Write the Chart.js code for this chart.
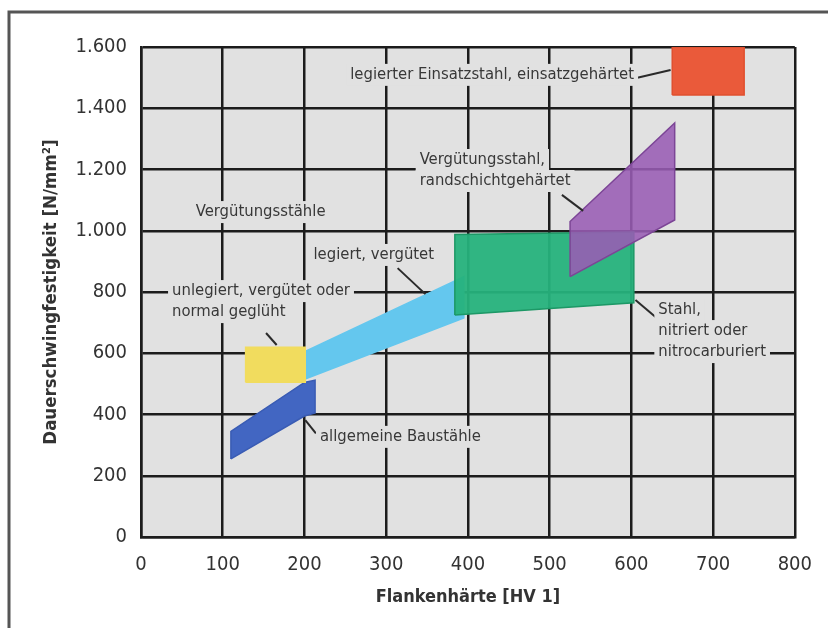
<!DOCTYPE html>
<html>
<head>
<meta charset="utf-8">
<script src="https://cdn.jsdelivr.net/npm/chart.js@4.4.1/dist/chart.umd.min.js"></script>
<style>
  html, body { margin: 0; padding: 0; background: #fff; }
  #wrap { width: 828px; height: 628px; position: relative; }
</style>
</head>
<body>
<div id="wrap"><canvas id="chart"></canvas></div>
<script>
// tick labels (German number format)
const xTicks = ['0', '100', '200', '300', '400', '500', '600', '700', '800'];
const yTicks = ['0', '200', '400', '600', '800', '1.000', '1.200', '1.400', '1.600'];

// areas: corner points, Flankenhärte [HV 1] and Dauerschwingfestigkeit [N/mm²]
const einsatzHV = [650, 650, 738, 738];
const einsatzN  = [1443, 1600, 1600, 1443];
const randHV    = [525, 525, 653, 653];
const randN     = [850, 1030, 1352, 1035];
const nitrierHV = [384, 384, 603, 603];
const nitrierN  = [725, 988, 996, 765];
const unlegHV   = [128, 128, 201, 201];
const unlegN    = [505, 620, 620, 505];
const legHV     = [200, 200, 395, 395];
const legN      = [515, 605, 850, 715];
const baustHV   = [110, 110, 200, 213, 213, 200];
const baustN    = [255, 345, 505, 512, 405, 395];

// text notes and their leader lines (data units)
const notes = [
  { lines: ['legierter Einsatzstahl, einsatzgehärtet'], hv: 256, n: 1509 },
  { lines: ['Vergütungsstahl,', 'randschichtgehärtet'], hv: 341, n: 1231 },
  { lines: ['Vergütungsstähle'], hv: 67, n: 1061 },
  { lines: ['legiert, vergütet'], hv: 211, n: 921 },
  { lines: ['unlegiert, vergütet oder', 'normal geglüht'], hv: 38, n: 803 },
  { lines: ['allgemeine Baustähle'], hv: 219, n: 327 },
  { lines: ['Stahl,', 'nitriert oder', 'nitrocarburiert'], hv: 633, n: 741 }
];
const leaders = [
  [606, 1499, 648, 1525],
  [515, 1117, 541, 1065],
  [314, 878, 348, 793],
  [153, 666, 166, 627],
  [201, 382, 214, 338],
  [605, 774, 631, 715]
];

const FONT = "'Liberation Sans Narrow', 'DejaVu Sans Condensed', 'Liberation Sans', sans-serif";
const plotBg = '#e1e1e1';
const gridCol = '#1c1c1c';

function area(hv, n, fill, border) {
  const pts = hv.map((x, i) => ({ x, y: n[i] }));
  pts.push(pts[0]); // close the shape
  return {
    data: pts,
    backgroundColor: fill,
    borderColor: border,
    borderWidth: 1.5,
    fill: 'shape',
    pointRadius: 0,
    tension: 0
  };
}

const decor = {
  id: 'decor',
  beforeDraw(chart) {
    const { ctx, chartArea: a } = chart;
    ctx.save();
    ctx.fillStyle = '#fff';
    ctx.fillRect(0, 0, chart.width, chart.height);
    ctx.fillStyle = plotBg;
    ctx.fillRect(a.left, a.top, a.right - a.left, a.bottom - a.top);
    ctx.strokeStyle = '#555';
    ctx.lineWidth = 3;
    ctx.beginPath();
    ctx.moveTo(9, chart.height);
    ctx.lineTo(9, 12);
    ctx.lineTo(chart.width, 12);
    ctx.stroke();
    ctx.restore();
  },
  afterDatasetsDraw(chart) {
    const { ctx } = chart;
    const xs = chart.scales.x, ys = chart.scales.y;
    ctx.save();
    ctx.strokeStyle = '#2a2a2a';
    ctx.lineWidth = 2;
    leaders.forEach(l => {
      ctx.beginPath();
      ctx.moveTo(xs.getPixelForValue(l[0]), ys.getPixelForValue(l[1]));
      ctx.lineTo(xs.getPixelForValue(l[2]), ys.getPixelForValue(l[3]));
      ctx.stroke();
    });
    ctx.font = '16.5px ' + FONT;
    ctx.textBaseline = 'middle';
    ctx.textAlign = 'left';
    notes.forEach(nt => {
      const x = xs.getPixelForValue(nt.hv);
      const y0 = ys.getPixelForValue(nt.n);
      nt.lines.forEach((t, i) => {
        const y = y0 + i * 21;
        const w = ctx.measureText(t).width;
        ctx.fillStyle = plotBg;
        ctx.fillRect(x - 4, y - 11, w + 8, 22);
      });
      nt.lines.forEach((t, i) => {
        ctx.fillStyle = '#383838';
        ctx.fillText(t, x, y0 + i * 21);
      });
    });
    ctx.restore();
  }
};

new Chart(document.getElementById('chart'), {
  type: 'line',
  data: {
    datasets: [
      area(einsatzHV, einsatzN, '#ea5a3a', '#e0502f'),
      area(randHV, randN, 'rgba(153,92,180,0.88)', '#7c4596'),
      area(nitrierHV, nitrierN, 'rgba(38,178,124,0.95)', '#1d9866'),
      area(unlegHV, unlegN, '#f1dc5e', '#f1dc5e'),
      area(legHV, legN, '#64c7ee', '#64c7ee'),
      area(baustHV, baustN, '#4266c2', '#3a5cb4')
    ]
  },
  options: {
    responsive: true,
    maintainAspectRatio: false,
    devicePixelRatio: 1,
    animation: false,
    layout: { padding: { left: 0, top: 47, right: 27, bottom: 0 } },
    plugins: { legend: { display: false }, tooltip: { enabled: false } },
    scales: {
      x: {
        type: 'linear',
        min: 0, max: 800,
        ticks: {
          stepSize: 100,
          padding: 16,
          color: '#333',
          font: { family: FONT, size: 20 },
          callback: (v, i) => xTicks[i]
        },
        grid: { color: gridCol, lineWidth: 2.5, drawTicks: false },
        border: { display: true, color: gridCol, width: 2.5 },
        title: {
          display: true,
          text: 'Flankenhärte [HV 1]',
          color: '#333',
          font: { family: FONT, size: 18, weight: 'bold' },
          padding: { top: 0, bottom: 20 }
        },
        afterFit: s => { s.height = 91; }
      },
      y: {
        min: 0, max: 1600,
        ticks: {
          stepSize: 200,
          padding: 14,
          color: '#333',
          font: { family: FONT, size: 20 },
          callback: (v, i) => yTicks[i]
        },
        grid: { color: gridCol, lineWidth: 2.5, drawTicks: false },
        border: { display: true, color: gridCol, width: 2.5 },
        title: {
          display: true,
          text: 'Dauerschwingfestigkeit [N/mm²]',
          color: '#333',
          font: { family: FONT, size: 18.5, weight: 'bold' },
          padding: { top: 40, bottom: 0 }
        },
        afterFit: s => { s.width = 141; }
      }
    }
  },
  plugins: [decor]
});
</script>
</body>
</html>
